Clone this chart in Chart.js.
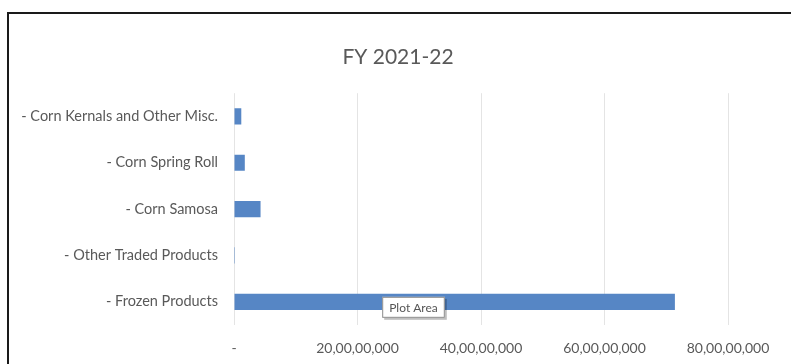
<!DOCTYPE html>
<html>
<head>
<meta charset="utf-8">
<script src="https://cdn.jsdelivr.net/npm/chart.js@4/dist/chart.umd.min.js"></script>
<style>
  html, body { margin: 0; padding: 0; background: #ffffff; }
  #c { display: block; }
</style>
</head>
<body>
<canvas id="c" width="791" height="364"></canvas>
<script>
const chartTitle = "FY 2021-22";
const categories = [
  "- Corn Kernals and Other Misc.",
  "- Corn Spring Roll",
  "- Corn Samosa",
  "- Other Traded Products",
  "- Frozen Products"
];
const revenue = [11800000, 17500000, 43000000, 1500000, 714000000];
const tickValues = [0, 200000000, 400000000, 600000000, 800000000];
const overlayLabel = "Plot Area";

function indianFormat(v) {
  if (v === 0) return "-";
  const s = String(Math.round(v));
  if (s.length <= 3) return s;
  const last3 = s.slice(-3);
  let rest = s.slice(0, -3);
  const parts = [];
  while (rest.length > 2) { parts.unshift(rest.slice(-2)); rest = rest.slice(0, -2); }
  if (rest.length) parts.unshift(rest);
  return parts.join(",") + "," + last3;
}

const frameAndTag = {
  id: "frameAndTag",
  beforeDraw(chart) {
    const ctx = chart.ctx;
    ctx.save();
    ctx.fillStyle = "#ffffff";
    ctx.fillRect(0, 0, chart.width, chart.height);
    ctx.restore();
  },
  afterDraw(chart) {
    const ctx = chart.ctx;
    ctx.save();
    ctx.strokeStyle = "#1a1a1a";
    ctx.lineWidth = 2;
    ctx.strokeRect(8, 13, 800, 400);
    // "Plot Area" hover tag
    const x = chart.scales.x.getPixelForValue(240000000);
    const y = chart.scales.y.getPixelForValue(4) - 5;
    ctx.font = "12px Lato";
    const w = ctx.measureText(overlayLabel).width + 14;
    const h = 21;
    ctx.fillStyle = "rgba(0,0,0,0.25)";
    ctx.fillRect(x + 2, y + 2, w, h);
    ctx.fillStyle = "#ffffff";
    ctx.fillRect(x, y, w, h);
    ctx.strokeStyle = "#8a8a8a";
    ctx.lineWidth = 1;
    ctx.strokeRect(x + 0.5, y + 0.5, w - 1, h - 1);
    ctx.fillStyle = "#555555";
    ctx.textBaseline = "middle";
    ctx.fillText(overlayLabel, x + 7, y + h / 2 + 1);
    ctx.restore();
  }
};

new Chart(document.getElementById("c"), {
  type: "bar",
  data: {
    labels: categories,
    datasets: [{
      data: revenue,
      backgroundColor: "#5686c5",
      borderWidth: 0,
      categoryPercentage: 1,
      barPercentage: 0.35
    }]
  },
  options: {
    indexAxis: "y",
    responsive: false,
    animation: false,
    events: [],
    layout: { padding: { top: 12, left: 5, right: 0, bottom: 0 } },
    plugins: {
      legend: { display: false },
      tooltip: { enabled: false },
      title: {
        display: true,
        text: chartTitle,
        color: "#595959",
        font: { family: "Lato", size: 21, weight: "normal" },
        padding: { top: 33, bottom: 23 }
      }
    },
    scales: {
      x: {
        min: 0,
        max: 800000000,
        afterBuildTicks(scale) { scale.ticks = tickValues.map(v => ({ value: v })); },
        afterFit(scale) { scale.height = 39; },
        grid: { color: "#e4e4e4", drawTicks: false, lineWidth: 1 },
        border: { display: false },
        ticks: {
          color: "#595959",
          font: { family: "Lato", size: 14 },
          padding: 15,
          maxRotation: 0,
          callback: (v) => indianFormat(v)
        }
      },
      y: {
        afterFit(scale) { scale.width = 229; },
        grid: { display: false },
        border: { display: false },
        ticks: {
          color: "#595959",
          font: { family: "Lato", size: 14.5 },
          padding: 8
        }
      },
      yRightSpace: {
        type: "linear",
        axis: "y",
        position: "right",
        afterFit(scale) { scale.width = 63; },
        grid: { display: false },
        border: { display: false },
        ticks: { display: false }
      }
    }
  },
  plugins: [frameAndTag]
});
</script>
</body>
</html>
